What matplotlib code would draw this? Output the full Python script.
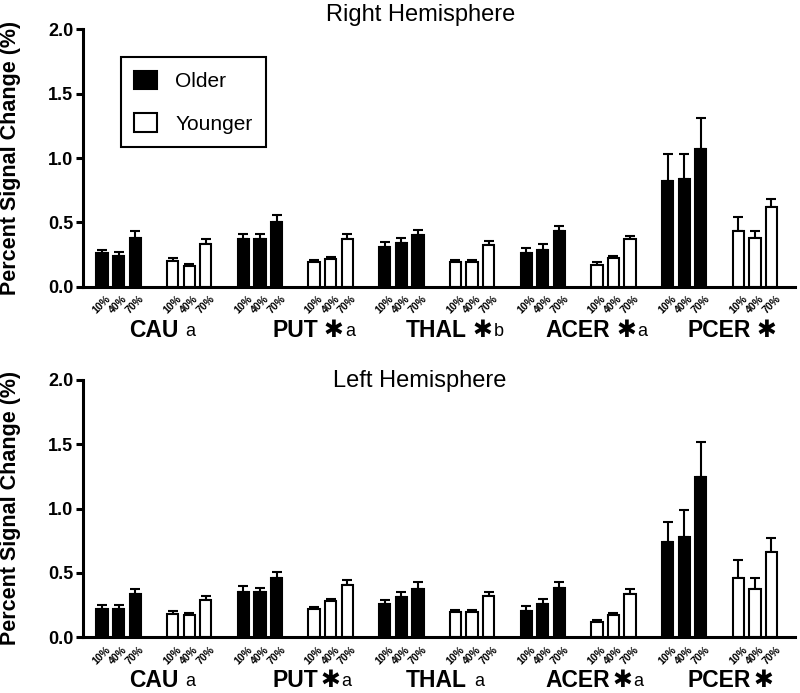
import numpy as np
import matplotlib
matplotlib.use("Agg")
import matplotlib.pyplot as plt
from matplotlib.patches import Patch

plt.rcParams["font.family"] = ["Liberation Sans", "DejaVu Sans"]

# ---------- data ----------
regions = ["CAU", "PUT", "THAL", "ACER", "PCER"]
levels = ["10%", "40%", "70%"]

# Right hemisphere (mean, upper SEM)
right_older = [[0.26, 0.24, 0.38], [0.375, 0.375, 0.50], [0.31, 0.34, 0.40],
               [0.265, 0.29, 0.43], [0.82, 0.84, 1.07]]
right_older_err = [[0.03, 0.03, 0.05], [0.035, 0.035, 0.06], [0.04, 0.04, 0.045],
                   [0.035, 0.04, 0.04], [0.21, 0.19, 0.24]]
right_younger = [[0.20, 0.16, 0.33], [0.19, 0.22, 0.375], [0.195, 0.195, 0.325],
                 [0.17, 0.225, 0.37], [0.43, 0.38, 0.62]]
right_younger_err = [[0.025, 0.015, 0.04], [0.02, 0.015, 0.035], [0.015, 0.015, 0.03],
                     [0.02, 0.015, 0.025], [0.11, 0.05, 0.06]]

# Left hemisphere
left_older = [[0.218, 0.218, 0.334], [0.355, 0.35, 0.46], [0.256, 0.31, 0.378],
              [0.207, 0.256, 0.38], [0.74, 0.777, 1.246]]
left_older_err = [[0.035, 0.035, 0.04], [0.045, 0.03, 0.045], [0.035, 0.04, 0.05],
                  [0.035, 0.045, 0.047], [0.155, 0.21, 0.27]]
left_younger = [[0.18, 0.17, 0.29], [0.223, 0.28, 0.41], [0.194, 0.20, 0.32],
                [0.12, 0.174, 0.334], [0.464, 0.378, 0.666]]
left_younger_err = [[0.025, 0.02, 0.03], [0.015, 0.02, 0.035], [0.016, 0.015, 0.035],
                    [0.015, 0.013, 0.044], [0.136, 0.08, 0.106]]

# significance marks after each region name
right_stars = ["", "✱", "✱", "✱", "✱"]
right_letters = ["a", "a", "b", "a", ""]
left_stars = ["", "✱", "", "✱", "✱"]
left_letters = ["a", "a", "a", "a", ""]

PITCH = 4.26
LW = 1.5


def draw_panel(ax, older, older_err, younger, younger_err, stars, letters, star_gap, letter_gap):
    pos = []
    for r in range(len(regions)):
        for k, (vals, errs, face) in enumerate([(older, older_err, "black"),
                                                 (younger, younger_err, "white")]):
            x = (2 * r + k) * PITCH + np.arange(3)
            ax.bar(x, vals[r], width=0.68, color=face, edgecolor="black", linewidth=LW, zorder=2)
            ax.errorbar(x, vals[r], yerr=[np.zeros(3), errs[r]], fmt="none", ecolor="black",
                        elinewidth=LW, capsize=3.5, capthick=LW, zorder=1)
            pos.extend(x)

    ax.set_xticks(pos)
    ax.set_xticklabels(levels * (2 * len(regions)), rotation=45, fontsize=7.5, fontweight="bold")
    ax.tick_params(axis="x", length=0, pad=5)
    ax.set_xlim(-1.13, 41.77)
    ax.set_ylim(0, 2.0)
    ax.set_yticks([0, 0.5, 1.0, 1.5, 2.0])
    ax.set_yticklabels([f"{v:.1f}" for v in [0, 0.5, 1.0, 1.5, 2.0]], fontsize=13, fontweight="bold")
    ax.tick_params(axis="y", length=5, width=2.2, pad=2)
    for s in ["top", "right"]:
        ax.spines[s].set_visible(False)
    for s in ["left", "bottom"]:
        ax.spines[s].set_linewidth(2.2)

    trans = ax.get_xaxis_transform()
    for r, name in enumerate(regions):
        xc = (4 * r + 1) * PITCH / 2 + 1
        t = ax.text(xc, -0.193, name, transform=trans, ha="center", va="baseline",
                    fontsize=16.5, fontweight="bold")
        last = t
        if stars[r]:
            last = ax.annotate(stars[r], xy=(1, 0), xycoords=t, xytext=(star_gap, 0),
                               textcoords="offset points", ha="left", va="bottom",
                               fontsize=17, fontweight="bold", family=["DejaVu Sans"])
        if letters[r]:
            gap = letter_gap if stars[r] else letter_gap + 4
            ax.annotate(letters[r], xy=(1, 0), xycoords=(last, t), xytext=(gap, 1.5),
                        textcoords="offset points", ha="left", va="bottom", fontsize=13)


fig = plt.figure(figsize=(8, 6.93), dpi=100)
ax1 = fig.add_axes([0.104, 0.586, 0.89, 0.372])
ax2 = fig.add_axes([0.104, 0.0804, 0.89, 0.3713])

draw_panel(ax1, right_older, right_older_err, right_younger, right_younger_err,
           right_stars, right_letters, 4, 1)
draw_panel(ax2, left_older, left_older_err, left_younger, left_younger_err,
           left_stars, left_letters, 1.5, 1)

fig.text(421 / 800, 1 - 15 / 693, "Right Hemisphere", ha="center", va="center", fontsize=17)
fig.text(420 / 800, 1 - 381 / 693, "Left Hemisphere", ha="center", va="center", fontsize=17)
for yc in [158, 508]:
    fig.text(11 / 800, 1 - yc / 693, "Percent Signal Change (%)", rotation=90,
             ha="center", va="center", fontsize=15.5, fontweight="bold")

handles = [Patch(facecolor="black", edgecolor="black", linewidth=LW),
           Patch(facecolor="white", edgecolor="black", linewidth=LW)]
leg = ax1.legend(handles, ["Older", "Younger"], loc="upper left", bbox_to_anchor=(0.053, 0.891),
                 fontsize=15, handlelength=1.1, handleheight=1.0, handletextpad=0.85,
                 labelspacing=1.05, borderpad=0.65, borderaxespad=0, fancybox=False,
                 edgecolor="black", framealpha=1)
leg.get_frame().set_linewidth(1.5)

fig.savefig("out.png", dpi=100)
